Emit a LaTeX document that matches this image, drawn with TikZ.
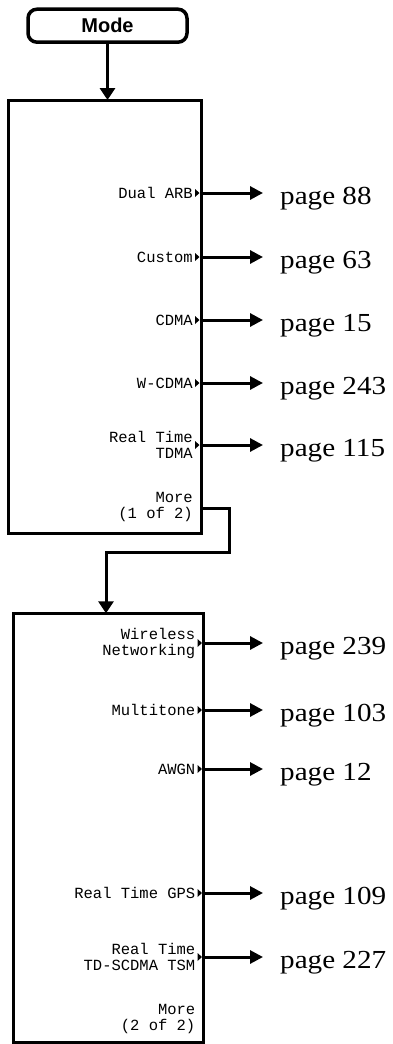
\documentclass[tikz,border=0pt]{standalone}
\usepackage{fontspec}
\setsansfont{Liberation Sans}
\setmonofont{Liberation Mono}
\newfontfamily\pagefont{Liberation Serif}[FakeStretch=1.12]
\usetikzlibrary{arrows.meta}
\tikzset{
  box/.style={draw, line width=3pt, inner sep=0pt, outer sep=0pt},
  modebox/.style={draw, rounded corners=9pt, line width=3.5pt, inner sep=0pt, outer sep=0pt,
    minimum width=159pt, minimum height=33pt, font=\sffamily\bfseries\fontsize{20}{22}\selectfont},
  keylabel/.style={font=\ttfamily\fontsize{15.5}{16}\selectfont, anchor=east, align=right, inner sep=0pt},
  pagelabel/.style={font=\pagefont\fontsize{26}{30}\selectfont, anchor=west, inner sep=0pt, text height=22pt, text depth=0pt},
  arr/.style={line width=3pt, -{Triangle[length=13pt,width=13pt]}},
}
\newcommand{\keymarker}[2]{\fill (#1-6,#2-4) -- (#1-1.5,#2) -- (#1-6,#2+4) -- cycle;}
\begin{document}
\begin{tikzpicture}[x=1pt,y=-1pt]
\useasboundingbox (0,0) rectangle (392,1044);
% Mode key
\node[modebox] (mode) at (107.5,25.7) {Mode};
% menu boxes
\node[box, minimum width=192.5pt, minimum height=433pt] (b1) at (104.75,316.5) {};
\node[box, minimum width=190pt, minimum height=428.7pt] (b2) at (108.5,827.65) {};
\draw[line width=3pt, -{Triangle[length=12pt,width=15pt]}] (mode.south) -- (mode.south |- b1.north);

% box 1 labels
\node[keylabel] (k1) at (193,193) {Dual ARB};
\node[keylabel] (k2) at (193,257) {Custom};
\node[keylabel] (k3) at (193,320) {CDMA};
\node[keylabel] (k4) at (193,383) {W-CDMA};
\node[keylabel] (k5) at (193,445) {Real Time\\TDMA};
\node[keylabel] (k6) at (193,507) {More\\(1 of 2)};

\node[pagelabel] (p1) at (280,193) {page 88};
\node[pagelabel] (p2) at (280,257) {page 63};
\node[pagelabel] (p3) at (280,320) {page 15};
\node[pagelabel] (p4) at (280,383) {page 243};
\node[pagelabel] (p5) at (280,445) {page 115};

\foreach \p in {p1,p2,p3,p4,p5}{
  \draw[arr] (b1.east |- \p.west) -- ([xshift=-17pt]\p.west);
}
\foreach \yy in {193,257,320,383,445}{\keymarker{201}{\yy}}

% connector More (1 of 2) -> box 2
\coordinate (t1) at (229,508);
\coordinate (t2) at (229,552);
\coordinate (t3) at (106,552);
\draw[line width=3pt, -{Triangle[length=12pt,width=15pt]}] (b1.east |- t1) -- (t1) -- (t2) -- (t3) -- (t3 |- b2.north);

% box 2 labels
\node[keylabel] (q1) at (195.5,643) {Wireless\\Networking};
\node[keylabel] (q2) at (195.5,710) {Multitone};
\node[keylabel] (q3) at (195.5,769) {AWGN};
\node[keylabel] (q4) at (195.5,893) {Real Time GPS};
\node[keylabel] (q5) at (195.5,957) {Real Time\\TD-SCDMA TSM};
\node[keylabel] (q6) at (195.5,1019) {More\\(2 of 2)};

\node[pagelabel] (r1) at (280,643) {page 239};
\node[pagelabel] (r2) at (280,710) {page 103};
\node[pagelabel] (r3) at (280,769) {page 12};
\node[pagelabel] (r4) at (280,893) {page 109};
\node[pagelabel] (r5) at (280,957) {page 227};

\foreach \p in {r1,r2,r3,r4,r5}{
  \draw[arr] (b2.east |- \p.west) -- ([xshift=-17pt]\p.west);
}
\foreach \yy in {643,710,769,893,957}{\keymarker{203.5}{\yy}}
\end{tikzpicture}
\end{document}
